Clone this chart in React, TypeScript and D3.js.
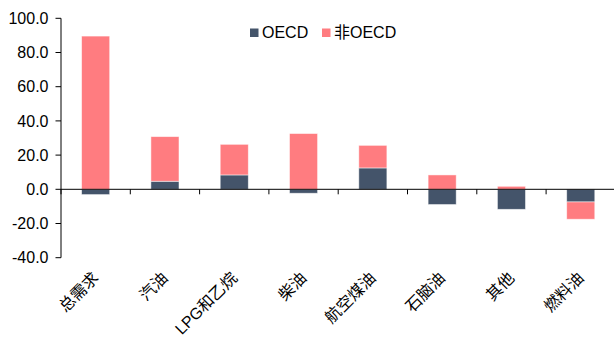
import React from "react";
import * as d3 from "d3";

const categories = ["总需求", "汽油", "LPG和乙烷", "柴油", "航空煤油", "石脑油", "其他", "燃料油"];
const oecd = [-3.1, 4.7, 8.4, -2.3, 12.5, -8.9, -11.7, -7.4];
const nonOecd = [89.6, 26.1, 17.9, 32.6, 13.2, 8.4, 1.75, -10.1];
const yTicks = [100, 80, 60, 40, 20, 0, -20, -40];
const seriesNames = ["OECD", "非OECD"];
const colors = ["#44546A", "#FF7C80"];

const W = 614;
const H = 338;
const FONT = "'Liberation Sans', Arial, 'Noto Sans CJK SC', sans-serif";

export default function App() {
  const x = d3.scaleBand<string>().domain(categories).range([61, 615.4]).paddingInner(0).paddingOuter(0);
  const y = d3.scaleLinear().domain([-40, 100]).range([257.7, 18.3]);
  const barW = x.bandwidth() * 0.405;

  const bars: { key: string; x: number; y0: number; y1: number; color: string }[] = [];
  categories.forEach((c, i) => {
    let pos = 0;
    let neg = 0;
    [oecd[i], nonOecd[i]].forEach((v, s) => {
      let a: number, b: number;
      if (v >= 0) {
        a = pos;
        b = pos + v;
        pos = b;
      } else {
        a = neg;
        b = neg + v;
        neg = b;
      }
      bars.push({ key: c + s, x: x(c)! + (x.bandwidth() - barW) / 2, y0: a, y1: b, color: colors[s] });
    });
  });

  const boundaries = categories.map((c) => x(c)!).concat([x.range()[1]]);

  return (
    <div style={{ position: "absolute", left: 0, top: 0 }}>
      <svg width={W} height={H} style={{ display: "block", background: "#fff" }} fontFamily={FONT}>
        {bars.map((b) => (
          <rect
            key={b.key}
            x={b.x}
            y={Math.min(y(b.y0), y(b.y1))}
            width={barW}
            height={Math.abs(y(b.y0) - y(b.y1))}
            fill={b.color}
            stroke="#ffffff"
            strokeOpacity={0.6}
            strokeWidth={0.8}
          />
        ))}
        <line x1={61} x2={61} y1={y(100)} y2={y(-40)} stroke="#000" strokeWidth={1} />
        {yTicks.map((t) => (
          <g key={t}>
            <line x1={55.5} x2={61} y1={y(t)} y2={y(t)} stroke="#000" strokeWidth={1} />
            <text x={48.5} y={y(t)} dy="0.36em" textAnchor="end" fontSize={16} fill="#000">
              {t.toFixed(1)}
            </text>
          </g>
        ))}
        <line x1={61} x2={W} y1={y(0)} y2={y(0)} stroke="#000" strokeWidth={1} />
        {boundaries.map((bx, i) => (
          <line key={i} x1={bx} x2={bx} y1={y(0)} y2={y(0) + 5} stroke="#000" strokeWidth={1} />
        ))}
        {categories.map((c) => {
          const cx = x(c)! + x.bandwidth() / 2 + 4;
          const cy = 279;
          return (
            <text
              key={c}
              x={cx}
              y={cy}
              textAnchor="end"
              fontSize={16}
              fill="#000"
              transform={`rotate(-45 ${cx} ${cy})`}
            >
              {c}
            </text>
          );
        })}
        {seriesNames.map((n, i) => {
          const lx = i === 0 ? 250 : 322;
          return (
            <g key={n}>
              <rect x={lx} y={28.5} width={8.5} height={8.5} fill={colors[i]} />
              <text x={lx + 12} y={32.5} dy="0.36em" fontSize={16} fill="#000">
                {n}
              </text>
            </g>
          );
        })}
      </svg>
    </div>
  );
}
